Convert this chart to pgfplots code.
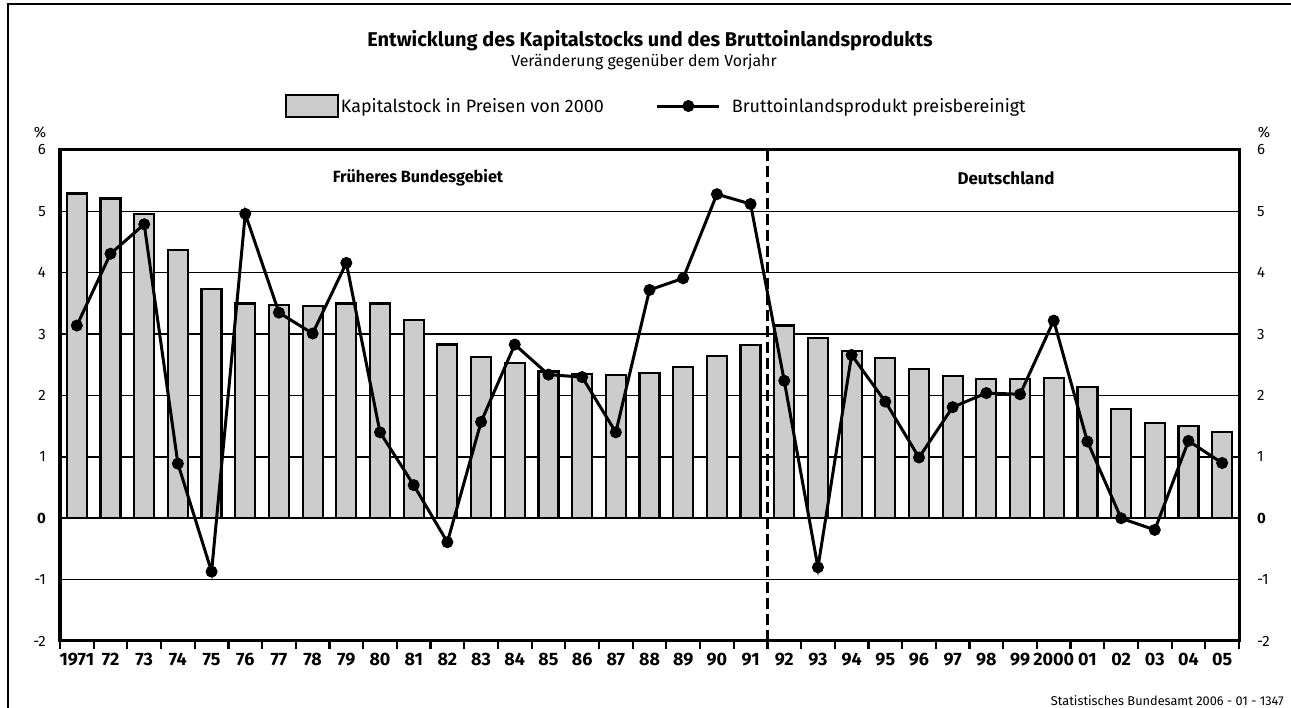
\documentclass[border=0pt]{standalone}
\usepackage{pgfplots}
\pgfplotsset{compat=1.18}
\usepackage{fontspec}
\setmainfont{Fira Sans}
\definecolor{barfill}{RGB}{204,204,204}
\pgfplotsset{
  barlegend/.style={legend image code/.code={\draw[##1,line width=2.2bp] (0bp,-11bp) rectangle (52bp,11bp);}},
  linelegend/.style={legend image code/.code={\draw[mark repeat=2,mark phase=2,##1] plot coordinates {(0bp,0bp) (31bp,0bp) (62bp,0bp)}; \path (71bp,0bp);}},
}
\begin{document}
\begin{tikzpicture}
\useasboundingbox (0,0) rectangle (1291bp,708bp);
\draw[line width=2.5bp] (8bp,0) -- (8bp,704bp) -- (1291bp,704bp);
\begin{axis}[
  at={(60bp,67bp)}, anchor=south west,
  scale only axis, width=1179bp, height=491bp,
  xmin=-0.5, xmax=34.5, ymin=-2, ymax=6,
  xtick={0,...,34},
  xticklabels={1971,72,73,74,75,76,77,78,79,80,81,82,83,84,85,86,87,88,89,90,91,92,93,94,95,96,97,98,99,2000,01,02,03,04,05},
  minor xtick={-0.5,0.5,...,34.5},
  ytick={-2,-1,1,2,3,4,5,6},
  extra y ticks={0}, extra y tick labels={\bfseries 0},
  extra y tick style={grid style={black,line width=3bp}},
  ymajorgrids,
  major grid style={black,line width=1.5bp},
  major tick length=0pt,
  minor tick length=8bp,
  tick align=outside,
  xtick pos=bottom, ytick pos=left,
  tick style={black,line width=2.2bp},
  axis line style={line width=3bp},
  /pgf/number format/assume math mode=true,
  yticklabel style={font=\fontsize{15}{18}\selectfont, anchor=east, inner sep=0pt, xshift=-14bp},
  xticklabel style={font=\fontsize{18}{21}\selectfont\bfseries, anchor=north, inner sep=0pt, yshift=-12bp},
  legend style={at={(0.1904,1.0896)}, anchor=west, draw=none, fill=none, inner sep=0pt,
    legend columns=2, font=\fontsize{18}{21}\selectfont,
    /tikz/every even column/.append style={column sep=50bp}},
  legend cell align=left,
]
\addplot[ybar, bar width=20bp, fill=barfill, draw=black, line width=2.2bp, barlegend]
coordinates {
(0,5.29) (1,5.21) (2,4.96) (3,4.37) (4,3.73) (5,3.50) (6,3.48) (7,3.46) (8,3.50) (9,3.50)
(10,3.23) (11,2.83) (12,2.63) (13,2.53) (14,2.39) (15,2.35) (16,2.33) (17,2.37) (18,2.47) (19,2.65)
(20,2.82) (21,3.14) (22,2.94) (23,2.72) (24,2.61) (25,2.43) (26,2.32) (27,2.27) (28,2.27) (29,2.29)
(30,2.14) (31,1.78) (32,1.55) (33,1.50) (34,1.41)
};
\addlegendentry{Kapitalstock in Preisen von 2000}
\addplot[black, line width=3bp, mark=*, mark size=5.5bp, mark options={fill=black,line width=1bp}, linelegend]
coordinates {
(0,3.14) (1,4.31) (2,4.79) (3,0.89) (4,-0.87) (5,4.96) (6,3.35) (7,3.01) (8,4.16) (9,1.40)
(10,0.54) (11,-0.39) (12,1.57) (13,2.83) (14,2.34) (15,2.30) (16,1.40) (17,3.72) (18,3.91) (19,5.28)
(20,5.12) (21,2.24) (22,-0.80) (23,2.66) (24,1.90) (25,0.99) (26,1.81) (27,2.04) (28,2.02) (29,3.22)
(30,1.25) (31,0.00) (32,-0.19) (33,1.26) (34,0.90)
};
\addlegendentry{Bruttoinlandsprodukt preisbereinigt}
\draw[black, line width=2.5bp, dash pattern=on 11bp off 5bp] (axis cs:20.5,-2) -- (axis cs:20.5,6);
\end{axis}
\begin{axis}[
  at={(60bp,67bp)}, anchor=south west,
  scale only axis, width=1179bp, height=491bp,
  xmin=-0.5, xmax=34.5, ymin=-2, ymax=6,
  axis x line=none, axis y line*=right,
  ytick={-2,-1,1,2,3,4,5,6},
  extra y ticks={0}, extra y tick labels={\bfseries 0},
  major tick length=0pt,
  axis line style={line width=3bp},
  /pgf/number format/assume math mode=true,
  yticklabel style={font=\fontsize{15}{18}\selectfont, anchor=west, inner sep=0pt, xshift=18bp},
]
\addplot[draw=none] coordinates {(0,0)};
\end{axis}
\node at (650bp,667bp) {\fontsize{20}{24}\selectfont\bfseries Entwicklung des Kapitalstocks und des Bruttoinlandsprodukts};
\node at (644bp,646bp) {\fontsize{16}{19}\selectfont Veränderung gegenüber dem Vorjahr};
\node at (40bp,576bp) {\fontsize{15}{18}\selectfont \%};
\node at (1264bp,576bp) {\fontsize{15}{18}\selectfont \%};
\node at (418bp,530bp) {\fontsize{16.3}{19}\selectfont\bfseries Früheres Bundesgebiet};
\node at (1006bp,530bp) {\fontsize{17}{20}\selectfont\bfseries Deutschland};
\node[anchor=east, inner sep=0pt] at (1284bp,7bp) {\fontsize{12.8}{15}\selectfont Statistisches Bundesamt 2006 - 01 - 1347};
\end{tikzpicture}
\end{document}
